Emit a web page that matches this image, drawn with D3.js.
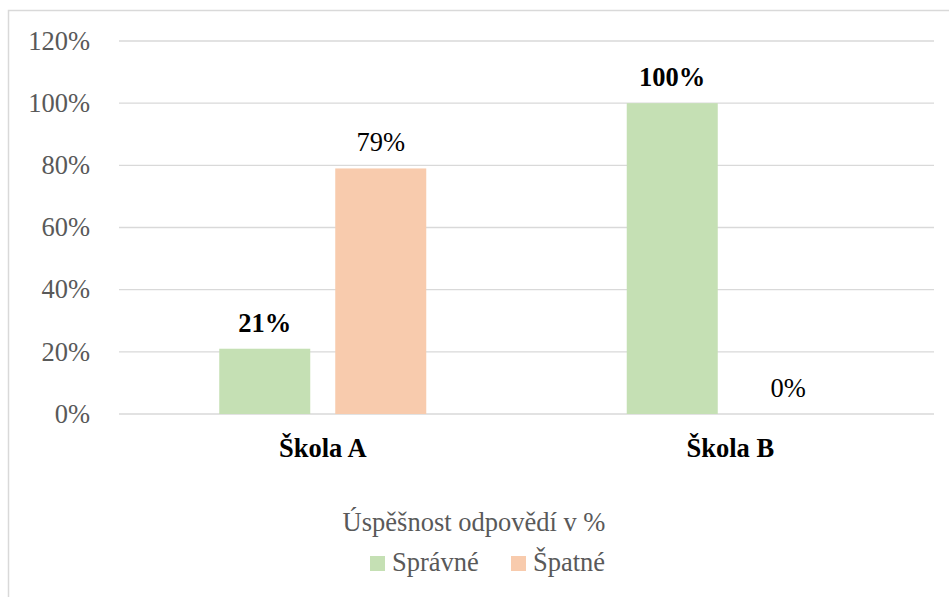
<!DOCTYPE html>
<html>
<head>
<meta charset="utf-8">
<script src="https://cdn.jsdelivr.net/npm/d3@7"></script>
<style>
  html, body { margin: 0; padding: 0; background: #fff; }
  #container { width: 949px; height: 597px; }
</style>
</head>
<body>
<div id="container"></div>
<script>
const categories = ['Škola A', 'Škola B'];
const seriesNames = ['Správné', 'Špatné'];
const spravne = [0.21, 1.00];
const spatne = [0.79, 0.00];
const yTicks = [0, 0.2, 0.4, 0.6, 0.8, 1.0, 1.2];
const legendTitle = 'Úspěšnost odpovědí v %';

const colors = ['#c5e0b4', '#f8cbad'];
const fontFamily = 'Times New Roman';
const fontSize = 26.5;

const svg = d3.select('#container')
    .append('svg')
    .attr('width', 949)
    .attr('height', 597)
    .attr('font-family', fontFamily)
    .style('font-family', fontFamily);

// chart frame (right/bottom edges fall outside the picture)
svg.append('rect')
    .attr('x', 8.5).attr('y', 10.5)
    .attr('width', 960).attr('height', 620)
    .attr('fill', 'none')
    .attr('stroke', '#d9d9d9')
    .attr('stroke-width', 1.5);

const plot = { left: 119, right: 934, top: 41, bottom: 414 };

const y = d3.scaleLinear().domain([0, 1.2]).range([plot.bottom, plot.top]);
const x0 = d3.scaleBand().domain(categories)
    .range([plot.left, plot.right])
    .paddingInner(0.492).paddingOuter(0.246);
const x1 = d3.scaleBand().domain(seriesNames)
    .range([0, x0.bandwidth()])
    .paddingInner(0.2155);

/* gridlines */
svg.append('g').attr('class', 'grid')
    .selectAll('line')
    .data(yTicks)
    .join('line')
    .attr('x1', plot.left).attr('x2', plot.right)
    .attr('y1', d => y(d)).attr('y2', d => y(d))
    .attr('stroke', '#d9d9d9')
    .attr('stroke-width', 1.3);

/* y axis labels */
svg.selectAll('.y-label')
    .data(yTicks)
    .join('text')
    .attr('class', 'y-label')
    .attr('x', 90)
    .attr('y', d => y(d) + 8.7)
    .attr('text-anchor', 'end')
    .attr('font-family', fontFamily)
    .attr('font-size', fontSize)
    .attr('fill', '#595959')
    .text(d => d3.format('.0%')(d));

/* bars */
const bars = [];
categories.forEach((c, i) => {
    bars.push({ category: c, series: seriesNames[0], value: spravne[i], idx: 0 });
    bars.push({ category: c, series: seriesNames[1], value: spatne[i], idx: 1 });
});

svg.selectAll('.bar')
    .data(bars)
    .join('rect')
    .attr('class', 'bar')
    .attr('x', d => x0(d.category) + x1(d.series))
    .attr('width', x1.bandwidth())
    .attr('y', d => y(d.value))
    .attr('height', d => y(0) - y(d.value))
    .attr('fill', d => colors[d.idx]);

svg.selectAll('.bar-label')
    .data(bars)
    .join('text')
    .attr('class', 'bar-label')
    .attr('x', d => x0(d.category) + x1(d.series) + x1.bandwidth() / 2)
    .attr('y', d => y(d.value) - 17)
    .attr('text-anchor', 'middle')
    .attr('font-family', fontFamily)
    .attr('font-size', fontSize)
    .attr('font-weight', d => d.idx === 0 ? 'bold' : 'normal')
    .attr('fill', '#000')
    .text(d => d3.format('.0%')(d.value));

/* category labels */
svg.selectAll('.x-label')
    .data(categories)
    .join('text')
    .attr('class', 'x-label')
    .attr('x', d => x0(d) + x0.bandwidth() / 2)
    .attr('y', 457)
    .attr('text-anchor', 'middle')
    .attr('font-family', fontFamily)
    .attr('font-size', fontSize)
    .attr('font-weight', 'bold')
    .attr('fill', '#000')
    .text(d => d);

/* legend */
svg.append('text')
    .attr('x', 474)
    .attr('y', 531)
    .attr('text-anchor', 'middle')
    .attr('font-family', fontFamily)
    .attr('font-size', fontSize)
    .attr('fill', '#595959')
    .text(legendTitle);

const legendX = [370, 511];
svg.selectAll('.legend-swatch')
    .data(seriesNames)
    .join('rect')
    .attr('class', 'legend-swatch')
    .attr('x', (d, i) => legendX[i]).attr('y', 556)
    .attr('width', 15).attr('height', 15)
    .attr('fill', (d, i) => colors[i]);
svg.selectAll('.legend-label')
    .data(seriesNames)
    .join('text')
    .attr('class', 'legend-label')
    .attr('x', (d, i) => legendX[i] + 22)
    .attr('y', 571)
    .attr('font-family', fontFamily)
    .attr('font-size', fontSize)
    .attr('fill', '#595959')
    .text(d => d);
</script>
</body>
</html>
